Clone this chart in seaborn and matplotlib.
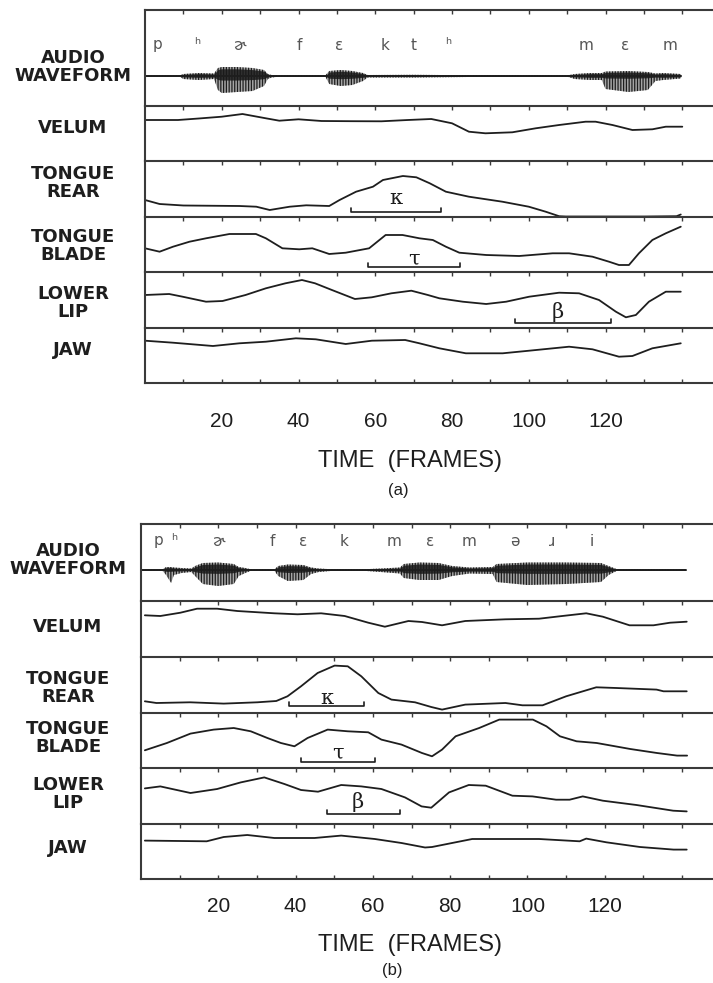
import numpy as np
import pandas as pd
import matplotlib
matplotlib.use("Agg")
import matplotlib.pyplot as plt
import seaborn as sns

sns.set_theme(style="white")
plt.rcParams["font.family"] = ["Liberation Sans", "DejaVu Sans"]
plt.rcParams["hatch.linewidth"] = 0.9

W, H = 713, 983

# ---------------- DATA (frames, heights in row units) ----------------
row_names = ["AUDIO\nWAVEFORM", "VELUM", "TONGUE\nREAR", "TONGUE\nBLADE", "LOWER\nLIP", "JAW"]

# Panel (a)
sym_a = ["p", "ʰ", "ɚ", "f", "ɛ", "k", "t", "ʰ", "m", "ɛ", "m"]
sym_a_x = [3.3, 13.7, 24.7, 40.3, 50.5, 62.5, 70.1, 79.0, 114.8, 125.2, 136.7]

audio_a_x = [0, 9, 10, 14, 18, 19, 20, 24, 28, 31, 32, 33, 35, 47, 48, 51, 54, 56.8, 58, 70, 84,
             110, 112, 116, 119, 120, 126, 131, 133, 135, 139.6]
audio_a_up = [0.5, 0.5, 2, 3, 2.5, 8, 9, 9, 8, 6, 2, 1, 0.6, 0.6, 5, 6, 5, 3, 1, 1.2, 0.8,
              0.6, 2, 3, 3, 4.5, 5, 4, 2.5, 3, 2]
audio_a_dn = [0.5, 0.5, 3, 4, 3, 14, 17, 16, 15, 10, 3, 1.5, 0.6, 0.6, 8, 10, 9, 5, 1.5, 1.5, 1,
              0.6, 3, 4, 4, 13, 16, 14, 5, 4, 2.5]

velum_a_x = [0, 8.6, 14, 20, 25.4, 31.5, 35, 40, 46, 54, 61.6, 68.5, 74.6, 80, 84.4, 88.7, 95.7,
             101.8, 107.9, 114.8, 117.4, 121.8, 127, 132.2, 135.7, 140]
velum_a_y = [41, 41, 42.5, 44.3, 47, 42.7, 40.3, 41.7, 40, 39.8, 39.7, 41, 42, 37.7, 29.3, 27.7,
             28.7, 32.7, 36, 39.3, 39.3, 36, 31, 31.7, 34.3, 34.3]

rear_a_x = [0, 3.8, 10, 24.6, 29, 32.5, 37.7, 42, 48, 50.7, 55, 59.4, 62, 67.2, 70.7, 74.2, 78.4,
            84.4, 93.1, 100, 104.4, 107.9, 109.6, 120, 130, 138.5, 139.6]
rear_a_y = [17, 13, 11.5, 11, 10.3, 7, 10.3, 11.7, 11, 17, 25.3, 30.3, 37, 41, 39.7, 33.7, 25.3,
            20.3, 15.3, 10.3, 5.3, 0.8, 0.5, 0.5, 0.5, 0.8, 2.5]

blade_a_x = [0, 3.8, 7.3, 11.6, 15.9, 22, 28.9, 31.5, 35.8, 40.2, 43.6, 48, 52.3, 58.4, 62.7, 67.1,
             71.5, 75, 78.4, 81.9, 88.9, 97.5, 106.2, 110.5, 116.6, 120.9, 123.5, 126.1, 128.7,
             132.2, 135.7, 139.6]
blade_a_y = [23.7, 20.3, 25.3, 30.3, 33.7, 38, 38, 33.7, 23.7, 22.7, 23.7, 18, 19.3, 23.7, 37, 37,
             33.7, 32, 25.3, 19.3, 17, 16, 18.7, 18.7, 15.3, 10.3, 7, 7, 18.7, 32, 38.7, 45.3]

lip_a_x = [0, 6.3, 9.8, 15.9, 20.2, 26.2, 31.5, 36.6, 40.9, 44.3, 48.7, 54.7, 59.1, 64.2, 69.4,
           73.7, 76.7, 82.8, 88.9, 94.1, 100.1, 107.9, 113.1, 118.3, 122.7, 125.3, 127.9, 131.3,
           135.7, 139.6]
lip_a_y = [33, 34, 31.3, 26.3, 27, 33, 39.7, 44.7, 48, 44.7, 38, 29, 30.7, 34.7, 37.3, 33, 29.7,
           26.3, 24, 26.3, 31.3, 35.3, 34.7, 28, 16.3, 10.7, 13, 26.3, 36.3, 36.3]

jaw_a_x = [0, 7.3, 17.7, 24.6, 31.5, 39.3, 44.5, 52.3, 59.1, 67.8, 71.5, 76.7, 83.6, 93.2, 100.1,
           110.5, 116.6, 123.5, 127, 132.2, 139.6]
jaw_a_y = [42.3, 40.3, 37, 39.7, 41.3, 44.7, 43.7, 39, 42.3, 43, 39.7, 34.7, 29.7, 29.7, 32.3,
           36.3, 33.7, 26.3, 27, 34.7, 39.7]

# gesture brackets (a): start, end, level, label
brk_a_row = [2, 3, 4]
brk_a_lab = ["κ", "τ", "β"]
brk_a_start = [53.7, 58.0, 96.5]
brk_a_end = [77.2, 82.0, 121.4]
brk_a_level = [5.3, 5.3, 4.7]
brk_a_lab_y = [19, 13, 16.3]

# Panel (b)
sym_b = ["p", "ʰ", "ɚ", "f", "ɛ", "k", "m", "ɛ", "m", "ə", "ɹ", "i"]
sym_b_x = [4.4, 8.6, 20.0, 33.9, 41.9, 52.6, 65.4, 74.7, 84.9, 96.6, 106.3, 116.7]

audio_b_x = [0, 5.5, 6.5, 7.8, 8.5, 10.5, 13, 14, 16, 20, 24, 25.3, 27, 28.5, 34.5, 35.5, 38, 42,
             44, 46, 49, 57, 62, 67, 68, 72, 77, 80.5, 85, 91, 92, 100, 110, 119, 121, 123, 141]
audio_b_up = [0.5, 0.5, 3, 3, 2.5, 2, 1.5, 4, 7, 7.5, 6, 3, 2, 0.6, 0.6, 4, 5.5, 5, 2.5, 1.5, 0.8,
              0.6, 1.5, 2.5, 6, 7.5, 7, 4, 2.5, 3, 6, 7.5, 7.5, 7, 4, 1, 0.5]
audio_b_dn = [0.5, 0.5, 5, 13, 5, 3, 2, 6, 14, 16, 14, 6, 3, 0.6, 0.6, 6, 11, 10, 4, 2, 1, 0.6,
              2, 3.5, 8, 10, 10, 6, 3.5, 4, 12, 15, 14, 12, 5, 1, 0.5]

velum_b_x = [1, 5, 10.2, 14.5, 19.7, 24.9, 34.5, 40.5, 46.6, 52.7, 58.8, 63.1, 69.2, 72.7, 77.9,
             83.9, 94.3, 103, 109, 115.2, 119.5, 126.4, 132.6, 136.9, 141.2]
velum_b_y = [41.7, 41, 44.3, 48.3, 48.3, 46, 43.7, 42.7, 43.7, 41, 34.3, 30.3, 36, 35, 31.7, 36,
             37.7, 38.3, 41, 43.7, 40.3, 31.7, 31.7, 34.3, 35.3]

rear_b_x = [1, 4, 12.7, 21.4, 30.1, 35, 37.9, 41.4, 45.7, 50.1, 53.5, 57, 61.4, 64.8, 70.9, 75.1,
            77.9, 83.9, 94.3, 98.7, 103.9, 110, 117.8, 123, 133.4, 135.2, 141.2]
rear_b_y = [11.7, 10, 10.7, 9.4, 10.7, 12, 16.7, 26.7, 40, 47.4, 46.7, 36.7, 20, 13.4, 10.7, 6,
            3.4, 8.4, 10, 7.7, 7.7, 16.7, 25.7, 25, 23.4, 21.7, 21.7]

blade_b_x = [1, 6.7, 12.8, 18.8, 24, 28.4, 32.7, 36.2, 39.7, 43.1, 48.3, 53.5, 58.8, 62.2, 67.4,
             72.7, 75.3, 77.9, 81.4, 87.5, 92.7, 101.4, 104.9, 108.4, 112.7, 117.9, 126.6, 133.5,
             138.7, 141.3]
blade_b_y = [17.7, 25, 34.4, 38.4, 40, 36.7, 30, 25, 21.7, 30, 38.4, 36.7, 35.7, 28.4, 23.4, 15,
             11.7, 18.4, 31.7, 40, 48.4, 48.4, 41.7, 31.7, 26.7, 25, 19, 15, 12.4, 12.4]

lip_b_x = [1, 5, 12.8, 19.7, 25.8, 31.9, 37.1, 41.4, 45.8, 51.8, 57, 62.2, 68.3, 72.6, 75.1, 79.7,
           84.8, 89.2, 96.1, 101.3, 107.4, 110.9, 114.3, 119.5, 128.2, 137.7, 141.2]
lip_b_y = [35.6, 37.6, 31, 35, 41.6, 46.6, 40, 34, 32.3, 39, 37.6, 35, 26.6, 17.6, 16.3, 31.6, 39,
           38.3, 28.3, 27.6, 24.3, 24.3, 27.6, 23.3, 19, 13.3, 12.6]

jaw_b_x = [1, 17, 21.4, 27.5, 34.5, 44.9, 51.8, 60.5, 67.4, 73.5, 75.3, 81.4, 85.7, 103, 113.5,
           115.2, 120.4, 129.1, 137.8, 141.2]
jaw_b_y = [38.4, 37.7, 42, 44, 41, 41, 43.4, 40, 36, 31.5, 32, 36.7, 40, 40, 37.7, 40.4, 36.7, 32,
           29.4, 29.4]

brk_b_row = [2, 3, 4]
brk_b_lab = ["κ", "τ", "β"]
brk_b_start = [38.3, 41.4, 48.1]
brk_b_end = [57.7, 60.5, 67.0]
brk_b_level = [6.7, 5.7, 10.0]
brk_b_lab_y = [15, 15, 21.6]

tick_vals = [20, 40, 60, 80, 100, 120]

# ---------------- LAYOUT (pixels) ----------------
panels = [
    dict(left=145, bounds=[10, 106, 161, 217, 272, 328, 383], base=30, lab_x=73,
         lab_y=[67, 128, 183, 246, 303, 350], tick_pad=21, time_y=461, tag="(a)", tag_y=490, tag_x=398,
         sym=sym_a, sym_x=sym_a_x, sym_h=31,
         audio=(audio_a_x, audio_a_up, audio_a_dn),
         curves=[(velum_a_x, velum_a_y), (rear_a_x, rear_a_y), (blade_a_x, blade_a_y),
                 (lip_a_x, lip_a_y), (jaw_a_x, jaw_a_y)],
         brk=(brk_a_row, brk_a_lab, brk_a_start, brk_a_end, brk_a_level, brk_a_lab_y)),
    dict(left=141, bounds=[524, 601, 657, 713, 768, 824, 879], base=31, lab_x=68,
         lab_y=[560, 627, 688, 738, 794, 848], tick_pad=13, time_y=945, tag="(b)", tag_y=971, tag_x=392,
         sym=sym_b, sym_x=sym_b_x, sym_h=29,
         audio=(audio_b_x, audio_b_up, audio_b_dn),
         curves=[(velum_b_x, velum_b_y), (rear_b_x, rear_b_y), (blade_b_x, blade_b_y),
                 (lip_b_x, lip_b_y), (jaw_b_x, jaw_b_y)],
         brk=(brk_b_row, brk_b_lab, brk_b_start, brk_b_end, brk_b_level, brk_b_lab_y)),
]

INK = "#1e1e1e"
SEP = "#3a3a3a"
fig = plt.figure(figsize=(W / 100, H / 100), dpi=100)
fig.patch.set_facecolor("white")

for P in panels:
    left = P["left"] / W
    width = (W - P["left"]) / W
    axes = []
    b = P["bounds"]
    for i in range(6):
        top, bot = b[i], b[i + 1]
        ax = fig.add_axes([left, 1 - bot / H, width, (bot - top) / H])
        ax.set_facecolor("white")
        ax.set_xlim(0, 148)
        for s in ["right", "bottom"]:
            ax.spines[s].set_visible(False)
        for s in ["top", "left"]:
            ax.spines[s].set_color(SEP)
            ax.spines[s].set_linewidth(1.5)
        ax.set_yticks([])
        ax.set_xticks(range(10, 150, 10))
        ax.tick_params(axis="x", top=True, bottom=False, labeltop=False, labelbottom=False,
                       direction="in", length=3, width=1, color=SEP)
        axes.append(ax)

    # audio row
    ax = axes[0]
    rh = b[1] - b[0]
    ax.set_ylim(-P["base"], rh - P["base"])
    ax_x, up, dn = P["audio"]
    up = np.array(up)
    dn = np.array(dn)
    ax.fill_between(ax_x, -dn, up, facecolor="#6a6a6a", edgecolor="none", lw=0, alpha=0.6)
    ax.fill_between(ax_x, -dn, up, facecolor="none", edgecolor=INK, hatch="||||||", lw=0)
    ax.fill_between(ax_x, -np.minimum(up, dn) * 0.45, up * 0.8, color="#1a1a1a", lw=0, alpha=0.85)
    sns.lineplot(x=[ax_x[0], ax_x[-1]], y=[0, 0], ax=ax, color=INK, lw=1.4, legend=False)
    for s, sx in zip(P["sym"], P["sym_x"]):
        ax.text(sx, P["sym_h"], s, ha="center", va="center", fontsize=11, color="#555555",
                family=["DejaVu Sans", "Noto Sans"])

    # articulator rows
    for i, (cx, cy) in enumerate(P["curves"]):
        ax = axes[i + 1]
        rh = b[i + 2] - b[i + 1]
        ax.set_ylim(0, rh)
        df = pd.DataFrame({"frame": cx, "pos": cy})
        sns.lineplot(data=df, x="frame", y="pos", ax=ax, color=INK, lw=1.3, legend=False,
                     estimator=None, sort=False)
        ax.set_xlabel("")
        ax.set_ylabel("")

    rows, labs, st, en, lev, ly = P["brk"]
    for r, lab, s0, e0, lv, yy in zip(rows, labs, st, en, lev, ly):
        ax = axes[r]
        ax.plot([s0, s0, e0, e0], [lv + 4, lv, lv, lv + 4], color=INK, lw=1.2)
        ax.text((s0 + e0) / 2 if lab != "β" else (s0 + e0) / 2 - 1.5, yy, lab, ha="center",
                va="center", fontsize=15, family=["DejaVu Serif"], color=INK)

    # bottom spine & tick labels
    ax = axes[-1]
    ax.spines["bottom"].set_visible(True)
    ax.spines["bottom"].set_color(SEP)
    ax.spines["bottom"].set_linewidth(1.5)
    ax.set_xticks(range(10, 150, 10))
    ax.set_xticklabels([str(t) if t in tick_vals else "" for t in range(10, 150, 10)])
    ax.tick_params(axis="x", bottom=True, labelbottom=True, direction="in", length=3,
                   pad=P["tick_pad"], labelsize=15, labelcolor=INK)

    for lab, yy in zip(row_names, P["lab_y"]):
        fig.text(P["lab_x"] / W, 1 - yy / H, lab, ha="center", va="center", fontsize=13,
                 fontweight="bold", family=["DejaVu Sans"], color=INK, linespacing=0.95)

    fig.text(410 / W, 1 - P["time_y"] / H, "TIME  (FRAMES)", ha="center", va="center",
             fontsize=17, color=INK)
    fig.text(P["tag_x"] / W, 1 - P["tag_y"] / H, P["tag"], ha="center", va="center",
             fontsize=12, color=INK)

fig.savefig("out.png", dpi=100, facecolor="white")
